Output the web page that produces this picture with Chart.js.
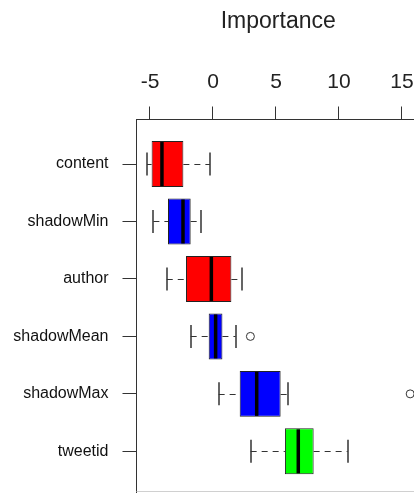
<!DOCTYPE html>
<html lang="en">
<head>
  <meta charset="UTF-8" />
  <title>Importance</title>
  <script src="https://cdn.jsdelivr.net/npm/chart.js"></script>
  <style>
    html, body {
      margin: 0;
      padding: 0;
      background: #fff;
      overflow: hidden;
    }
    .wrap {
      width: 414px;
      height: 493px;
      overflow: hidden;
    }
  </style>
</head>
<body>
<div class="wrap">
  <canvas id="chart" width="440" height="516"></canvas>
</div>

<script>
  const categories = ['content', 'shadowMin', 'author', 'shadowMean', 'shadowMax', 'tweetid'];
  const whiskerLow = [-5.24, -4.73, -3.67, -1.77, 0.45, 2.99];
  const q1 = [-4.87, -3.57, -2.14, -0.34, 2.12, 5.71];
  const median = [-4.05, -2.38, -0.13, 0.21, 3.47, 6.77];
  const q3 = [-2.35, -1.77, 1.46, 0.75, 5.37, 7.99];
  const whiskerHigh = [-0.24, -0.95, 2.28, 1.80, 5.95, 10.69];
  const outlierCategory = ['shadowMean', 'shadowMax'];
  const outlierValue = [2.97, 15.65];
  const xTicks = [-5, 0, 5, 10, 15];

  const boxColors = ['#ff0000', '#0000ff', '#ff0000', '#0000ff', '#0000ff', '#00ff00'];
  const lineColor = '#333';

  // whiskers, staples, medians and the frame
  const boxplotExtras = {
    id: 'boxplotExtras',
    afterDatasetsDraw(chart) {
      const ctx = chart.ctx;
      const x = chart.scales.x;
      const y = chart.scales.y;
      const area = chart.chartArea;
      ctx.save();
      categories.forEach((c, i) => {
        const pos = i + 1;
        const yc = Math.round(y.getPixelForValue(pos)) + 0.5;
        const capTop = y.getPixelForValue(pos - 0.2);
        const capBot = y.getPixelForValue(pos + 0.2);
        const boxTop = y.getPixelForValue(pos - 0.4);
        const boxBot = y.getPixelForValue(pos + 0.4);

        ctx.strokeStyle = lineColor;
        ctx.lineWidth = 1;
        ctx.setLineDash([6, 5]);
        ctx.beginPath();
        ctx.moveTo(x.getPixelForValue(whiskerLow[i]), yc);
        ctx.lineTo(x.getPixelForValue(q1[i]), yc);
        ctx.moveTo(x.getPixelForValue(q3[i]), yc);
        ctx.lineTo(x.getPixelForValue(whiskerHigh[i]), yc);
        ctx.stroke();

        ctx.setLineDash([]);
        ctx.lineWidth = 1.5;
        ctx.beginPath();
        const lo = Math.round(x.getPixelForValue(whiskerLow[i]));
        const hi = Math.round(x.getPixelForValue(whiskerHigh[i]));
        ctx.moveTo(lo, capTop);
        ctx.lineTo(lo, capBot);
        ctx.moveTo(hi, capTop);
        ctx.lineTo(hi, capBot);
        ctx.stroke();

        ctx.strokeStyle = '#000';
        ctx.lineWidth = 3.5;
        ctx.beginPath();
        const mx = x.getPixelForValue(median[i]);
        ctx.moveTo(mx, boxTop + 1);
        ctx.lineTo(mx, boxBot - 1);
        ctx.stroke();
      });

      ctx.lineWidth = 1;
      ctx.strokeStyle = '#d0d0d0';
      ctx.beginPath();
      ctx.moveTo(area.left, Math.round(area.bottom) - 0.5);
      ctx.lineTo(area.right, Math.round(area.bottom) - 0.5);
      ctx.stroke();
      ctx.restore();
    }
  };

  new Chart(document.getElementById('chart'), {
    type: 'bar',
    data: {
      datasets: [
        {
          type: 'bar',
          indexAxis: 'y',
          data: categories.map((c, i) => ({ x: [q1[i], q3[i]], y: i + 1 })),
          backgroundColor: boxColors,
          borderColor: '#222',
          borderWidth: 1,
          borderSkipped: false,
          barPercentage: 0.8,
          categoryPercentage: 1
        },
        {
          type: 'scatter',
          data: outlierCategory.map((c, i) => ({ x: outlierValue[i], y: categories.indexOf(c) + 1 })),
          pointStyle: 'circle',
          pointRadius: 4,
          backgroundColor: 'rgba(0,0,0,0)',
          borderColor: '#333',
          borderWidth: 1
        }
      ]
    },
    options: {
      indexAxis: 'y',
      responsive: false,
      animation: false,
      layout: { padding: { left: 0, top: 0, right: 20, bottom: 0 } },
      plugins: {
        legend: { display: false },
        tooltip: { enabled: false }
      },
      scales: {
        x: {
          type: 'linear',
          position: 'top',
          min: -6.07,
          max: 16.43,
          afterBuildTicks: (scale) => { scale.ticks = xTicks.map(v => ({ value: v })); },
          afterFit: (scale) => { scale.height = 119.5; },
          grid: { drawOnChartArea: false, drawTicks: true, tickLength: 13, color: lineColor },
          border: { display: true, color: lineColor },
          ticks: {
            color: '#222',
            padding: 12,
            font: { family: 'Liberation Sans, Arial, sans-serif', size: 21 }
          },
          title: {
            display: true,
            text: 'Importance',
            color: '#222',
            padding: { top: 8, bottom: 0 },
            font: { family: 'Liberation Sans, Arial, sans-serif', size: 23 }
          }
        },
        y: {
          type: 'linear',
          reverse: true,
          offset: false,
          min: 0.225,
          max: 6.715,
          afterBuildTicks: (scale) => { scale.ticks = categories.map((c, i) => ({ value: i + 1 })); },
          afterFit: (scale) => { scale.width = 136.5; },
          grid: { offset: false, drawOnChartArea: false, drawTicks: true, tickLength: 14, color: lineColor },
          border: { display: true, color: lineColor },
          ticks: {
            color: '#111',
            padding: 14,
            callback: (v) => categories[v - 1] || '',
            font: { family: 'Liberation Sans, Arial, sans-serif', size: 16 }
          }
        }
      }
    },
    plugins: [boxplotExtras]
  });
</script>
</body>
</html>
